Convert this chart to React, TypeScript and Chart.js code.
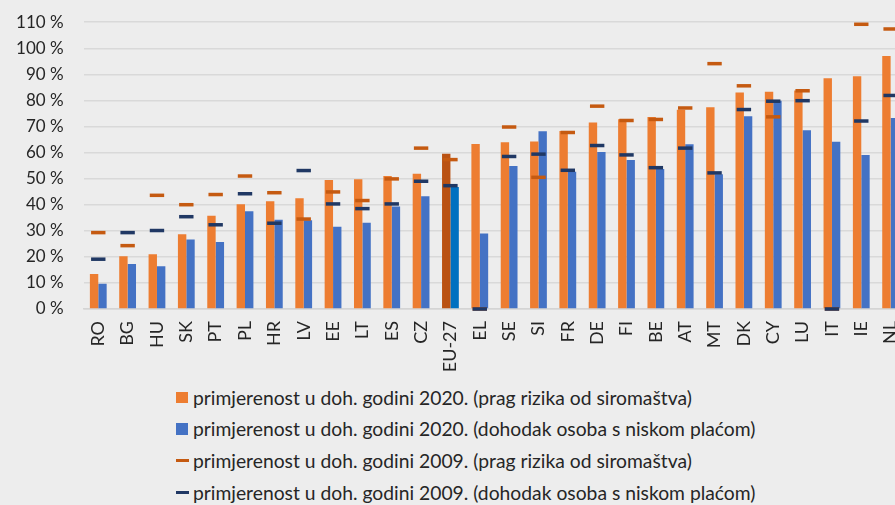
import React, { useEffect, useRef } from "react";
import { Chart, registerables } from "chart.js";

Chart.register(...registerables);

const categories = ["RO", "BG", "HU", "SK", "PT", "PL", "HR", "LV", "EE", "LT", "ES", "CZ", "EU-27", "EL", "SE", "SI", "FR", "DE", "FI", "BE", "AT", "MT", "DK", "CY", "LU", "IT", "IE", "NL"];

const adequacy2020Poverty = [13.4, 20.2, 21.0, 28.7, 35.8, 40.2, 41.3, 42.5, 49.5, 49.8, 51.0, 51.9, 59.5, 63.3, 64.0, 64.2, 68.3, 71.5, 72.8, 73.6, 76.4, 77.4, 83.0, 83.3, 83.8, 88.5, 89.3, 97.0];
const adequacy2020LowWage = [9.7, 17.3, 16.4, 26.7, 25.7, 37.5, 34.2, 34.0, 31.5, 33.1, 39.3, 43.2, 46.8, 29.0, 54.8, 68.2, 52.6, 60.2, 57.1, 53.7, 63.2, 51.7, 73.9, 79.9, 68.6, 64.1, 59.1, 73.3];
const adequacy2009Poverty = [29.3, 24.3, 43.6, 40.0, 43.9, 51.0, 44.6, 34.5, 44.9, 41.6, 49.9, 61.7, 57.3, 0, 69.8, 50.5, 67.7, 77.8, 72.3, 72.7, 77.1, 94.1, 85.6, 73.7, 83.7, 0, 109.2, 107.4];
const adequacy2009LowWage = [19.1, 29.3, 30.1, 35.4, 32.3, 44.2, 32.9, 53.1, 40.3, 38.5, 40.3, 49.0, 47.3, 0, 58.5, 59.4, 53.2, 62.7, 59.1, 54.2, 61.7, 52.2, 76.5, 79.7, 79.9, 0, 72.1, 81.9];

const seriesLabels = [
  "primjerenost u doh. godini 2020. (prag rizika od siromaštva)",
  "primjerenost u doh. godini 2020. (dohodak osoba s niskom plaćom)",
  "primjerenost u doh. godini 2009. (prag rizika od siromaštva)",
  "primjerenost u doh. godini 2009. (dohodak osoba s niskom plaćom)",
];

const ORANGE = "#ED7D31";
const BLUE = "#4472C4";
const ORANGE_EU = "#BA5213";
const BLUE_EU = "#0070C0";
const DASH_ORANGE = "#C55A11";
const DASH_NAVY = "#203864";
const TEXT = "#262626";
const FONT = "Lato, 'Open Sans', sans-serif";

export default function App() {
  const canvasRef = useRef<HTMLCanvasElement | null>(null);

  useEffect(() => {
    document.body.style.margin = "0";
    document.body.style.overflow = "hidden";
    const canvas = canvasRef.current;
    if (!canvas) return;
    const chart = new Chart(canvas, {
      type: "bar",
      data: {
        labels: categories,
        datasets: [
          {
            type: "line",
            label: seriesLabels[3],
            data: adequacy2009LowWage,
            showLine: false,
            pointStyle: "line",
            pointRadius: 7.2,
            pointBorderWidth: 3.5,
            pointBorderColor: DASH_NAVY,
            pointBackgroundColor: DASH_NAVY,
            borderColor: DASH_NAVY,
            backgroundColor: DASH_NAVY,
            clip: false,
            order: 0,
          } as any,
          {
            type: "line",
            label: seriesLabels[2],
            data: adequacy2009Poverty,
            showLine: false,
            pointStyle: "line",
            pointRadius: 7.2,
            pointBorderWidth: 3.5,
            pointBorderColor: DASH_ORANGE,
            pointBackgroundColor: DASH_ORANGE,
            borderColor: DASH_ORANGE,
            backgroundColor: DASH_ORANGE,
            clip: false,
            order: 1,
          } as any,
          {
            type: "bar",
            label: seriesLabels[0],
            data: adequacy2020Poverty,
            backgroundColor: categories.map((c) => (c === "EU-27" ? ORANGE_EU : ORANGE)),
            barPercentage: 1,
            categoryPercentage: 0.572,
            order: 2,
          },
          {
            type: "bar",
            label: seriesLabels[1],
            data: adequacy2020LowWage,
            backgroundColor: categories.map((c) => (c === "EU-27" ? BLUE_EU : BLUE)),
            barPercentage: 1,
            categoryPercentage: 0.572,
            order: 3,
          },
        ],
      },
      options: {
        responsive: false,
        animation: false,
        events: [],
        layout: { padding: { top: 0, left: 0, right: 0, bottom: 0 } },
        plugins: {
          legend: { display: false },
          tooltip: { enabled: false },
        },
        scales: {
          x: {
            grid: { display: false, drawTicks: false },
            border: { display: true, color: "#d4d4d4", width: 1.5 },
            ticks: {
              color: TEXT,
              font: { family: FONT, size: 18 },
              minRotation: 90,
              maxRotation: 90,
              padding: 12,
              autoSkip: false,
            },
            afterFit: (scale: any) => {
              scale.height = 70;
              scale.paddingLeft = 0;
              scale.paddingRight = 0;
            },
          },
          y: {
            min: 0,
            max: 110,
            grid: { color: "#d9d9d9", lineWidth: 1.5, drawTicks: false },
            border: { display: false },
            ticks: {
              stepSize: 10,
              color: TEXT,
              padding: 20,
              font: { family: FONT, size: 17 },
              callback: (v: any) => `${v} %`,
            },
            afterFit: (scale: any) => {
              scale.width = 83.6;
              scale.paddingBottom = 0;
            },
          },
        },
      },
    });
    return () => chart.destroy();
  }, []);

  const legendItems = [
    { label: seriesLabels[0], color: ORANGE, kind: "box" },
    { label: seriesLabels[1], color: BLUE, kind: "box" },
    { label: seriesLabels[2], color: DASH_ORANGE, kind: "dash" },
    { label: seriesLabels[3], color: DASH_NAVY, kind: "dash" },
  ];

  return (
    <div
      style={{
        position: "fixed",
        left: 0,
        top: 0,
        width: 895,
        height: 505,
        overflow: "hidden",
        background: "#EDEDED",
      }}
    >
      <canvas
        ref={canvasRef}
        width={916}
        height={387}
        style={{ position: "absolute", left: 0, top: -8, width: 916, height: 387 }}
      />
      <div style={{ position: "absolute", left: 176, top: 381.5 }}>
        {legendItems.map((it, i) => (
          <div
            key={i}
            style={{
              display: "flex",
              alignItems: "center",
              height: 31.6,
              fontFamily: FONT,
              fontSize: 19.3,
              color: TEXT,
              whiteSpace: "nowrap",
            }}
          >
            <span
              style={{
                display: "inline-block",
                width: it.kind === "box" ? 11.5 : 12.5,
                height: it.kind === "box" ? 11.5 : 3,
                background: it.color,
                marginRight: it.kind === "box" ? 5.5 : 4.5,
              }}
            />
            <span>{it.label}</span>
          </div>
        ))}
      </div>
    </div>
  );
}
